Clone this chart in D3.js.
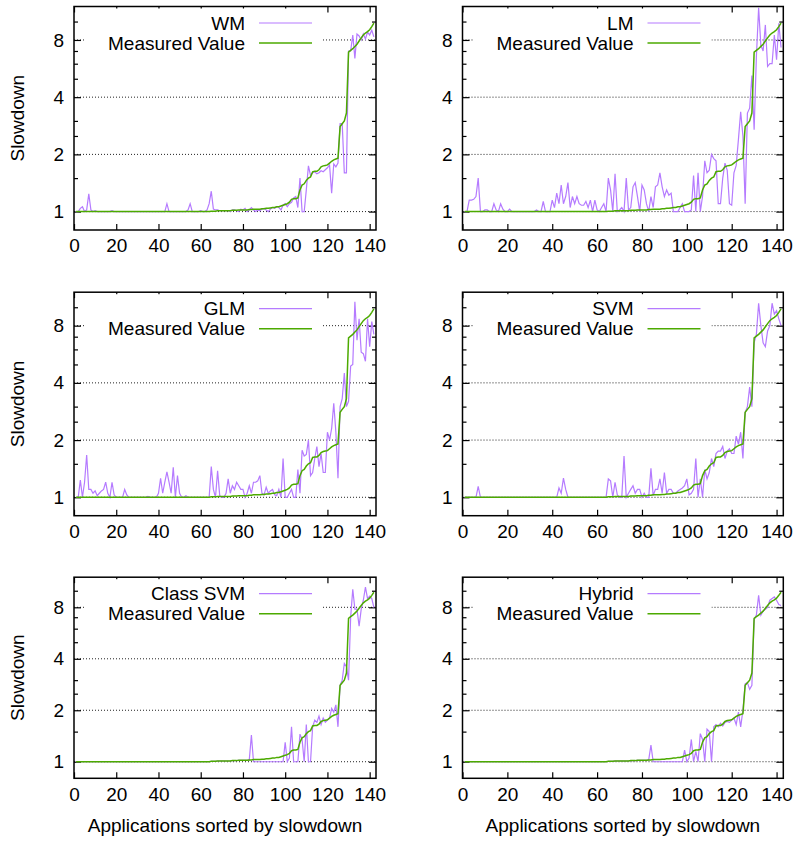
<!DOCTYPE html>
<html lang="en">
<head>
<meta charset="UTF-8">
<title>Slowdown prediction</title>
<style>
  body { margin: 0; background: #fff; }
  svg { display: block; font-family: "Liberation Sans", Arial, Helvetica, sans-serif; }
</style>
</head>
<body>
<script src="https://d3js.org/d3.v7.min.js"></script>
<script>
// Size of the page
let svgWidth = 796;
let svgHeight = 841;

// Data: 142 applications sorted by measured slowdown
let measured = [
  1,1,1,1,1,1,1,1,1,1,
  1,1,1,1,1,1,1,1,1,1,
  1,1,1,1,1,1,1,1,1,1,
  1,1,1,1,1,1,1,1,1,1,
  1,1,1,1,1,1,1,1,1,1,
  1,1,1,1,1,1,1,1,1,1,
  1,1,1,1,1.005,1.005,1.005,1.01,1.01,1.01,
  1.01,1.01,1.01,1.01,1.015,1.015,1.015,1.02,1.02,1.02,
  1.02,1.02,1.025,1.025,1.03,1.03,1.03,1.03,1.035,1.035,
  1.04,1.04,1.045,1.05,1.05,1.06,1.06,1.07,1.08,1.09,
  1.10,1.12,1.16,1.17,1.17,1.18,1.30,1.38,1.40,1.46,
  1.50,1.52,1.62,1.63,1.63,1.66,1.72,1.74,1.75,1.76,
  1.80,1.84,1.87,1.89,1.91,2.80,2.90,3.00,3.30,6.90,
  7.05,7.20,7.40,7.60,7.90,8.20,8.50,8.70,8.85,9.05,
  9.40,9.80
];

let wm = [
  1,1,1.04,1.06,1,1.02,1.24,1.02,1,1.01,
  1,1,1,1,1,1,1,1.01,1,1,
  1,1,1,1,1,1,1,1,1,1,
  1,1,1,1,1,1,1,1,1,1,
  1,1,1,1.1,1,1,1,1,1,1,
  1,1,1,1.02,1.1,1,1,1,1,1.01,
  1,1,1.02,1.1,1.28,1.03,1.02,1.02,1.01,1.01,
  1.01,1.01,1.01,1,1.02,1.02,1.01,1,1.03,1.02,
  1.04,1,1.02,1.05,1.02,1,1.02,1.01,1.03,1.04,
  1.02,1,1.03,1.05,1.04,1.06,1.05,1.02,1.08,1.1,
  1.06,1.1,1.12,1.18,1.2,1.05,1.5,1,1,1.3,
  1.74,1.55,1.6,1.62,1.58,1.6,1.64,1.62,1.66,1.7,
  1.76,1.25,1.78,1.72,1.8,2.9,2.9,1.6,1.6,7.0,
  7.0,8.5,6.4,8.6,8.4,8.0,8.6,8.1,8.8,8.5,
  9.0,8.3
];

let lm = [
  1,1,1.15,1.15,1.16,1.2,1.5,1,1,1.02,
  1.02,1,1,1.1,1.02,1,1.1,1.03,1,1,
  1.03,1,1,1,1,1,1,1,1,1,
  1,1,1.02,1,1,1.13,1,1,1,1.15,
  1.05,1.25,1.1,1.38,1.1,1.2,1.42,1.05,1.2,1.1,
  1.2,1.1,1.08,1.08,1.13,1.05,1.15,1,1.15,1.02,
  1,1.05,1.1,1,1.5,1.3,1,1.58,1,1.02,
  1.05,1,1.5,1.02,1.05,1.35,1.42,1.2,1,1.38,
  1.3,1.1,1,1.2,1.05,1.35,1.38,1.6,1.35,1.2,
  1.3,1.22,1.25,1,1,1,1.05,1.1,1,1,
  1,1.02,1.55,1,1.6,1,1.2,1.85,1.6,1.65,
  2.0,1.9,1.85,1.1,1.1,1.5,1.8,1.65,1.1,1.08,
  1.6,1.75,2.4,3.35,2.5,1.1,3.3,3.5,5.2,2.7,
  6.5,11.8,7.5,7.0,9.6,5.8,6.0,6.0,8.5,6.3,
  9.8,7.3
];

let glm = [
  1,1,1.23,1,1.2,1.67,1.1,1.1,1.05,1.08,
  1.02,1.05,1.08,1.1,1.2,1.05,1,1.2,1.03,1,
  1,1,1,1.1,1.03,1,1,1,1,1,
  1,1,1,1,1.01,1,1,1,1,1.05,
  1.26,1.05,1.2,1.36,1.2,1.05,1.44,1,1.3,1.05,
  1,1,1.02,1,1,1,1,1,1,1,
  1,1,1,1,1.45,1.1,1,1.38,1.02,1,
  1,1.05,1.25,1.05,1.15,1.1,1.2,1.15,1.1,1.1,
  1,1.05,1.15,1.05,1.2,1.2,1.22,1.3,1.05,1.03,
  1.13,1.05,1.08,1.1,1.03,1.02,1.1,1,1.6,1,
  1,1.05,1.1,1,1,1.4,1.05,1.77,1.65,1.68,
  2.0,1.3,1.35,1.6,1.85,1.45,1.7,1.35,1.35,2.2,
  2.0,2.3,3.12,2.2,1.26,3.0,3.3,4.5,3.0,3.2,
  4.9,5.0,10.7,6.7,8.7,5.8,5.7,5.2,8.7,6.2,
  8.4,7.2
];

let svm = [
  1,1,1,1,1,1,1.14,1,1,1,
  1,1,1,1,1,1,1,1,1,1,
  1,1,1,1,1,1,1,1,1,1,
  1,1,1,1,1,1,1,1,1,1,
  1,1,1.12,1.05,1.26,1.1,1,1,1,1,
  1,1,1,1,1,1,1,1,1,1,
  1,1,1,1,1.25,1.22,1,1.2,1.03,1,
  1,1.65,1,1.05,1.1,1.15,1.05,1.1,1.1,1,
  1.05,1,1,1.42,1.02,1.1,1.1,1.25,1.05,1.35,
  1.05,1.1,1.1,1.05,1.05,1.08,1.1,1.12,1.15,1.25,
  1.03,1.05,1.1,1.6,1,1.25,1,1.4,1.25,1.35,
  1.6,1.45,1.7,1.75,1.75,1.85,1.6,1.75,1.8,1.7,
  1.7,2.1,1.9,2.2,1.6,2.8,3.0,3.8,3.0,6.5,
  7.2,10.5,8.0,6.5,6.2,7.5,8.0,10.5,9.2,9.6,
  8.7,8.0
];

let classSvm = [
  1,1,1,1,1,1,1,1,1,1,
  1,1,1,1,1,1,1,1,1,1,
  1,1,1,1,1,1,1,1,1,1,
  1,1,1,1,1,1,1,1,1,1,
  1,1,1,1,1,1,1,1,1,1,
  1,1,1,1,1,1,1,1,1,1,
  1,1,1,1,1.005,1.005,1.005,1.01,1.01,1.01,
  1.01,1.01,1.01,1.01,1.015,1.015,1.015,1.02,1.02,1.02,
  1.02,1.02,1.025,1.43,1,1,1,1,1,1,
  1,1,1,1,1,1,1,1,1,1.3,
  1,1.05,1.6,1,1,1,1.45,1.35,1,1.65,
  1,1,1.6,1.75,1.7,1.85,1.65,1.8,1.7,1.75,
  1.8,2.05,1.95,2.15,1.6,2.8,3.0,3.76,3.6,3.0,
  7.0,10.2,7.8,7.8,6.2,7.8,8.8,10.5,9.0,9.3,
  9.0,8.0
];

let hybrid = [
  1,1,1,1,1,1,1,1,1,1,
  1,1,1,1,1,1,1,1,1,1,
  1,1,1,1,1,1,1,1,1,1,
  1,1,1,1,1,1,1,1,1,1,
  1,1,1,1,1,1,1,1,1,1,
  1,1,1,1,1,1,1,1,1,1,
  1,1,1,1,1.005,1.005,1.005,1.01,1.01,1.01,
  1.01,1.01,1.01,1.01,1.015,1.015,1.015,1.02,1.02,1.02,
  1.02,1.02,1.025,1.25,1,1,1,1,1,1,
  1,1,1,1,1,1,1,1,1.17,1,
  1.05,1.35,1,1.15,1,1.46,1.35,1,1.55,1.5,
  1,1.6,1.65,1.6,1.68,1.62,1.7,1.72,1.7,1.75,
  1.8,1.65,1.95,1.6,2.0,2.85,2.9,2.65,2.8,6.8,
  7.2,9.4,7.2,7.6,7.8,8.0,8.8,9.0,9.2,8.8,
  8.3,8.2
];

let modelNames = ["WM", "LM", "GLM", "SVM", "Class SVM", "Hybrid"];
let modelValues = [wm, lm, glm, svm, classSvm, hybrid];

// Tick values
let xTicks = [0, 20, 40, 60, 80, 100, 120, 140];
let yTicks = [1, 2, 4, 8];
let yMinorTicks = [1.5, 2.5, 3, 5, 6, 7, 10];

// Layout of the 3x2 grid (plot frames)
let columns = [{left: 74, right: 376}, {left: 462.5, right: 783.3}];
let rows = [{top: 6.5, bottom: 230}, {top: 292.2, bottom: 515.7}, {top: 577.2, bottom: 778.3}];

let purple = "#b57bff";
let green = "#4caa00";

let svg = d3.select("body")
  .append("svg")
  .attr("width", svgWidth)
  .attr("height", svgHeight);

modelNames.forEach(function(name, k) {
  let col = columns[k % 2];
  let row = rows[Math.floor(k / 2)];
  let values = modelValues[k];

  let xScale = d3.scaleLinear().domain([0, 143]).range([col.left, col.right]);
  let yScale = d3.scaleLog().base(2).domain([0.8, 12]).range([row.bottom, row.top]);

  let g = svg.append("g");

  // dotted grid lines
  g.selectAll(".grid")
    .data(yTicks)
    .enter()
    .append("line")
    .attr("x1", col.left)
    .attr("x2", col.right)
    .attr("y1", d => yScale(d))
    .attr("y2", d => yScale(d))
    .attr("stroke", "#222")
    .attr("stroke-width", 1)
    .attr("stroke-dasharray", "1,2");

  // axes, ticks inward and mirrored
  let bottomAxis = d3.axisBottom(xScale).tickValues(xTicks).tickSize(-6).tickPadding(9);
  let topAxis = d3.axisTop(xScale).tickValues(xTicks).tickSize(-6).tickFormat("");
  let leftAxis = d3.axisLeft(yScale).tickValues(yTicks).tickSize(-7).tickPadding(10).tickFormat(d3.format("d"));
  let rightAxis = d3.axisRight(yScale).tickValues(yTicks).tickSize(-7).tickFormat("");
  let leftMinor = d3.axisLeft(yScale).tickValues(yMinorTicks).tickSize(-4).tickFormat("");
  let rightMinor = d3.axisRight(yScale).tickValues(yMinorTicks).tickSize(-4).tickFormat("");

  let axes = [
    [bottomAxis, `translate(0,${row.bottom})`],
    [topAxis, `translate(0,${row.top})`],
    [leftAxis, `translate(${col.left},0)`],
    [rightAxis, `translate(${col.right},0)`],
    [leftMinor, `translate(${col.left},0)`],
    [rightMinor, `translate(${col.right},0)`]
  ];
  axes.forEach(function(a) {
    let ax = g.append("g").attr("transform", a[1]).call(a[0]);
    ax.select(".domain").remove();
    ax.selectAll("line").attr("stroke", "#000").attr("stroke-width", 1.2);
    ax.selectAll("text").attr("fill", "#000").style("font-size", "19px")
      .style("font-family", "'Liberation Sans', Arial, Helvetica, sans-serif");
  });

  // opaque key box
  g.append("rect")
    .attr("x", col.left + 11)
    .attr("y", row.top + 2)
    .attr("width", 238)
    .attr("height", 44)
    .attr("fill", "#fff");

  // lines
  let line = d3.line()
    .x((d, i) => xScale(i + 1))
    .y(d => yScale(d));

  g.append("path")
    .datum(values)
    .attr("d", line)
    .attr("fill", "none")
    .attr("stroke", purple)
    .attr("stroke-width", 1.2);

  g.append("path")
    .datum(measured)
    .attr("d", line)
    .attr("fill", "none")
    .attr("stroke", green)
    .attr("stroke-width", 1.5);

  // key
  let keyRows = [[name, purple, 1.2], ["Measured Value", green, 1.5]];
  keyRows.forEach(function(r, j) {
    let yy = row.top + 16.5 + j * 20;
    g.append("text")
      .attr("x", col.left + 171)
      .attr("y", yy)
      .attr("dy", "0.35em")
      .attr("text-anchor", "end")
      .style("font-size", "19px")
      .text(r[0]);
    g.append("line")
      .attr("x1", col.left + 185)
      .attr("x2", col.left + 238)
      .attr("y1", yy)
      .attr("y2", yy)
      .attr("stroke", r[1])
      .attr("stroke-width", r[2]);
  });

  // frame
  g.append("rect")
    .attr("x", col.left)
    .attr("y", row.top)
    .attr("width", col.right - col.left)
    .attr("height", row.bottom - row.top)
    .attr("fill", "none")
    .attr("stroke", "#000")
    .attr("stroke-width", 1.5);

  // y label on left column
  if (k % 2 === 0) {
    g.append("text")
      .attr("transform", `translate(24, ${(row.top + row.bottom) / 2}) rotate(-90)`)
      .attr("text-anchor", "middle")
      .style("font-size", "19px")
      .text("Slowdown");
  }

  // x label on bottom row
  if (Math.floor(k / 2) === 2) {
    g.append("text")
      .attr("x", (col.left + col.right) / 2)
      .attr("y", 832)
      .attr("text-anchor", "middle")
      .style("font-size", "19px")
      .text("Applications sorted by slowdown");
  }
});
</script>
</body>
</html>
